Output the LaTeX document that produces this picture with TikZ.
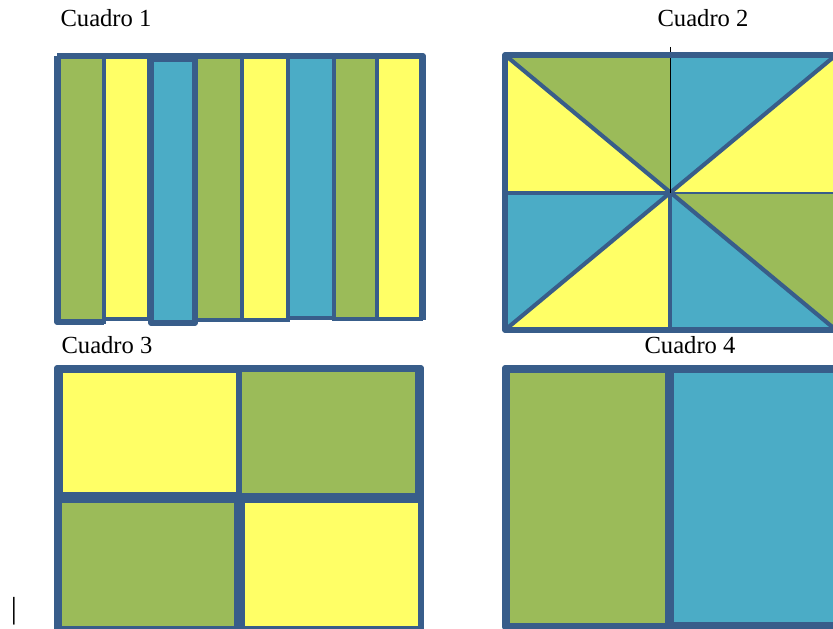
\documentclass[tikz,border=0pt]{standalone}
\usepackage{fontspec}
\setmainfont{Liberation Serif}
\usepackage{tikz}
\definecolor{cverde}{HTML}{9BBB59}
\definecolor{camarillo}{HTML}{FFFF66}
\definecolor{cazul}{HTML}{4BACC6}
\definecolor{cborde}{HTML}{385D8A}

\begin{document}
\begin{tikzpicture}[
    x=0.03cm, y=-0.03cm,
    marco/.style={draw=cborde, line width=4.5pt, line join=round},
    pieza/.style={draw=cborde, line width=3pt},
    divisor/.style={draw=cborde, line width=4.5pt},
    diag/.style={draw=cborde, line width=3.5pt, line cap=round},
    titulo/.style={font=\fontsize{21}{25}\selectfont, inner sep=0pt}
]
\clip (0,0) rectangle (833,629);
\fill[white] (0,0) rectangle (833,629);

% Cuadro 1
\foreach \xa/\xb/\yb/\col in {59/104/322/cverde, 104/149/319/camarillo, 196/242/320/cverde, 242/288/320/camarillo, 288/334/318/cazul, 334/377/319/cverde, 377/421/319/camarillo}
  \draw[pieza, fill=\col] (\xa,57) rectangle (\xb,\yb);
\draw[marco, fill=cazul] (151,59) rectangle (195,323);
\draw[marco] (57,56) -- (423,56) -- (423,320);
\draw[marco] (57,56) -- (57,322) -- (104,322);

% Cuadro 2
\coordinate (o) at (670,193);
\coordinate (c2a) at (505,55);
\coordinate (c2b) at (836,55);
\coordinate (c2c) at (836,330);
\coordinate (c2d) at (505,330);
\coordinate (m2n) at (670,55);
\coordinate (m2e) at (836,193);
\coordinate (m2s) at (670,330);
\coordinate (m2w) at (505,193);
\fill[cverde] (c2a) -- (m2n) -- (o) -- cycle;
\fill[camarillo] (c2a) -- (o) -- (m2w) -- cycle;
\fill[cazul] (m2n) -- (c2b) -- (o) -- cycle;
\fill[camarillo] (c2b) -- (m2e) -- (o) -- cycle;
\fill[cazul] (m2w) -- (o) -- (c2d) -- cycle;
\fill[camarillo] (c2d) -- (o) -- (m2s) -- cycle;
\fill[cverde] (o) -- (m2e) -- (c2c) -- cycle;
\fill[cazul] (o) -- (c2c) -- (m2s) -- cycle;
\draw[diag] (c2a) -- (c2c);
\draw[diag] (c2b) -- (c2d);
\draw[pieza] (m2w) -- (o);
\draw[draw=cborde, line width=1.5pt] (o) -- (m2e);
\draw[pieza] (o) -- (m2s);
\draw[black, line width=0.8pt] (670,47) -- (o);
\draw[marco] (c2a) rectangle (c2c);

% Cuadro 3
\draw[pieza, fill=camarillo] (61,371) rectangle (238,494);
\draw[pieza, fill=cverde] (240,370) rectangle (417,495);
\draw[pieza, fill=cverde] (60,501) rectangle (236,628);
\draw[pieza, fill=camarillo] (243,501) rectangle (420,628);
\draw[divisor] (57,498) -- (423,498);
\draw[divisor] (239,368) -- (239,498);
\draw[divisor] (240,498) -- (240,630);
\draw[marco] (57,368) rectangle (421,630);
\draw[divisor] (421,368) -- (421,498);

% Cuadro 4
\draw[pieza, fill=cverde] (508,371) rectangle (667,625);
\draw[pieza, fill=cazul] (672,371) rectangle (840,624);
\draw[divisor] (669,367) -- (669,629);
\draw[marco] (505,368) rectangle (845,627);

\node[titulo] (tit1) at (106,18) {Cuadro 1};
\node[titulo] (tit2) at (703,18) {Cuadro 2};
\node[titulo] (tit3) at (107,345) {Cuadro 3};
\node[titulo] (tit4) at (690,345) {Cuadro 4};
\node[titulo, font=\fontsize{26}{30}\selectfont] (cursor) at (14,611) {|};
\end{tikzpicture}
\end{document}
